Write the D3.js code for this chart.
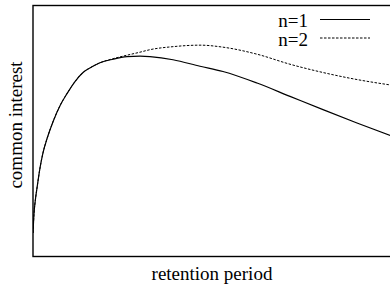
<!DOCTYPE html>
<html><head><meta charset="utf-8">
<script src="https://cdn.jsdelivr.net/npm/d3@7"></script>
<style>
html,body{margin:0;padding:0;background:#fff;}
svg{display:block;}
text{font-family:"Liberation Serif","Times New Roman",serif;fill:#000;}
</style></head>
<body>
<svg id="chart" width="390" height="289"></svg>
<script>
// Data (arbitrary units)
const retention = [0, 0.28, 0.70, 1.12, 1.96, 2.79, 3.91, 5.59, 7.54, 9.50, 11.73, 13.97, 16.48, 18.72,
  22.35, 26.26, 29.89, 32.68, 39.11, 46.65, 53.07, 62.57, 71.79, 81.01, 90.50, 100];
const interestN1 = [9.4, 17.0, 23.0, 27.3, 35.3, 41.3, 46.9, 53.7, 60.1, 64.9, 69.7, 73.3, 75.6, 77.2,
  78.6, 79.6, 79.8, 79.6, 78.4, 75.8, 73.7, 69.1, 63.8, 58.5, 53.2, 48.1];
const interestN2 = [9.4, 17.0, 23.0, 27.3, 35.3, 41.3, 46.9, 53.7, 60.1, 64.9, 69.7, 73.3, 75.6, 77.2,
  78.8, 80.2, 81.4, 82.4, 83.6, 84.2, 83.4, 80.6, 76.6, 73.3, 70.5, 68.3];
const seriesNames = ["n=1", "n=2"];
const xLabel = "retention period";
const yLabel = "common interest";

const svg = d3.select("#chart");
const m = {left: 33, top: 5.5, right: 391, bottom: 256.5};
const x = d3.scaleLinear().domain([0, 100]).range([m.left, m.right]);
const y = d3.scaleLinear().domain([0, 100]).range([m.bottom, m.top]);

const series = [
  {name: seriesNames[0], values: interestN1, dash: null},
  {name: seriesNames[1], values: interestN2, dash: "2.5,1.5"}
];

const line = d3.line().x((d, i) => x(retention[i])).y(d => y(d)).curve(d3.curveMonotoneX);

svg.append("clipPath").attr("id", "c").append("rect")
  .attr("x", m.left).attr("y", m.top).attr("width", m.right - m.left).attr("height", m.bottom - m.top);

svg.append("g").attr("clip-path", "url(#c)").selectAll("path").data(series).join("path")
  .attr("d", d => line(d.values))
  .attr("fill", "none").attr("stroke", "#000")
  .attr("stroke-width", d => d.dash ? 1 : 1.2)
  .attr("stroke-dasharray", d => d.dash);

// frame
svg.append("rect").attr("x", m.left).attr("y", m.top)
  .attr("width", m.right - m.left).attr("height", m.bottom - m.top)
  .attr("fill", "none").attr("stroke", "#000").attr("stroke-width", 1.4);

// legend
const leg = svg.append("g");
series.forEach((s, i) => {
  const by = 27 + i * 18.5;
  leg.append("text").attr("x", 308).attr("y", by).attr("text-anchor", "end")
    .attr("font-size", 19).text(s.name);
  leg.append("line").attr("x1", 320).attr("x2", 370).attr("y1", by - 7.5).attr("y2", by - 7.5)
    .attr("stroke", "#000").attr("stroke-width", s.dash ? 1 : 1.2)
    .attr("stroke-dasharray", s.dash);
});

svg.append("text").attr("x", 212).attr("y", 280).attr("text-anchor", "middle")
  .attr("font-size", 19).text(xLabel);
svg.append("text").attr("transform", "translate(22,125) rotate(-90)").attr("text-anchor", "middle")
  .attr("font-size", 19).text(yLabel);
</script>
</body></html>
